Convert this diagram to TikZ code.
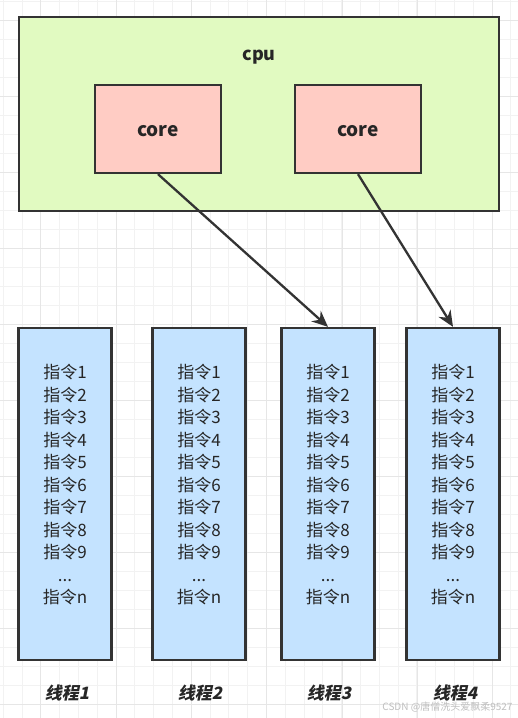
\documentclass[tikz,border=0pt]{standalone}
\usepackage{fontspec}
\setmainfont{Noto Sans CJK SC}
\newfontfamily\cjkslant[FakeSlant=0.2]{Noto Sans CJK SC}
\usetikzlibrary{arrows.meta}
\definecolor{cpufill}{HTML}{E1FAC1}
\definecolor{corefill}{HTML}{FFCCC4}
\definecolor{thrfill}{HTML}{C4E3FF}
\definecolor{edge}{HTML}{333333}
\definecolor{txt}{HTML}{262626}
\definecolor{gridminor}{HTML}{F2F2F2}
\definecolor{gridmajor}{HTML}{E6E6E6}
\tikzset{
  box/.style={draw=edge, line width=2.3pt, rectangle, inner sep=0pt},
  cpubox/.style={box, fill=cpufill, minimum width=480pt, minimum height=194pt},
  corebox/.style={box, fill=corefill, minimum width=126pt, minimum height=88pt},
  corelabel/.style={text=txt, font=\fontsize{19}{20}\selectfont\bfseries},
  thrbox/.style={box, fill=thrfill, minimum width=93pt, minimum height=332pt},
  instr/.style={align=center, text=txt, inner sep=0pt,
    font=\fontsize{17}{22.5}\selectfont},
  thrlabel/.style={text=txt, font=\fontsize{17}{18}\selectfont\cjkslant\bfseries},
  link/.style={draw=edge, line width=2.3pt, -{Stealth[length=16pt,width=14pt]}},
}
\newcommand{\instrlist}{指令1\\指令2\\指令3\\指令4\\指令5\\指令6\\指令7\\指令8\\指令9\\...\\指令n}
\begin{document}
\begin{tikzpicture}[x=1pt,y=-1pt]
\useasboundingbox (0,0) rectangle (518,718);
\fill[white] (0,0) rectangle (518,718);
% background grid
\foreach \gx in {3.1,21.9,...,518} {\draw[gridminor, line width=0.8pt] (\gx,0) -- (\gx,718);}
\foreach \gy in {1.1,20.1,...,718} {\draw[gridminor, line width=0.8pt] (0,\gy) -- (518,\gy);}
\foreach \gx in {40.7,116,...,518} {\draw[gridmajor, line width=0.8pt] (\gx,0) -- (\gx,718);}
\foreach \gy in {20.1,96.1,...,718} {\draw[gridmajor, line width=0.8pt] (0,\gy) -- (518,\gy);}

\node[cpubox] (cpu) at (259,114) {};
\node[text=txt, font=\fontsize{18}{20}\selectfont\bfseries] (cpulabel) at (259,57) {cpu};
\node[corebox] (core1) at (158,129) {};
\node[corebox] (core2) at (358,129) {};
\node[corelabel] (c1label) at (158,131) {core};
\node[corelabel] (c2label) at (358,131) {core};

\node[thrbox] (t1) at (65,494) {};
\node[thrbox] (t2) at (199,494) {};
\node[thrbox] (t3) at (328,494) {};
\node[thrbox] (t4) at (453,494) {};

\node[instr] (i1) at (65,485) {\instrlist};
\node[instr] (i2) at (199,485) {\instrlist};
\node[instr] (i3) at (328,485) {\instrlist};
\node[instr] (i4) at (453,485) {\instrlist};

\node[thrlabel] (l1) at (67,693) {线程1};
\node[thrlabel] (l2) at (200,693) {线程2};
\node[thrlabel] (l3) at (329,693) {线程3};
\node[thrlabel] (l4) at (455,693) {线程4};

\draw[link] (core1.south) -- (t3.north);
\draw[link] (core2.south) -- (t4.north);

\node[text=black!25, font=\fontsize{10}{11}\selectfont, anchor=east] (wm) at (516,707) {CSDN @唐僧洗头爱飘柔9527};
\end{tikzpicture}
\end{document}
